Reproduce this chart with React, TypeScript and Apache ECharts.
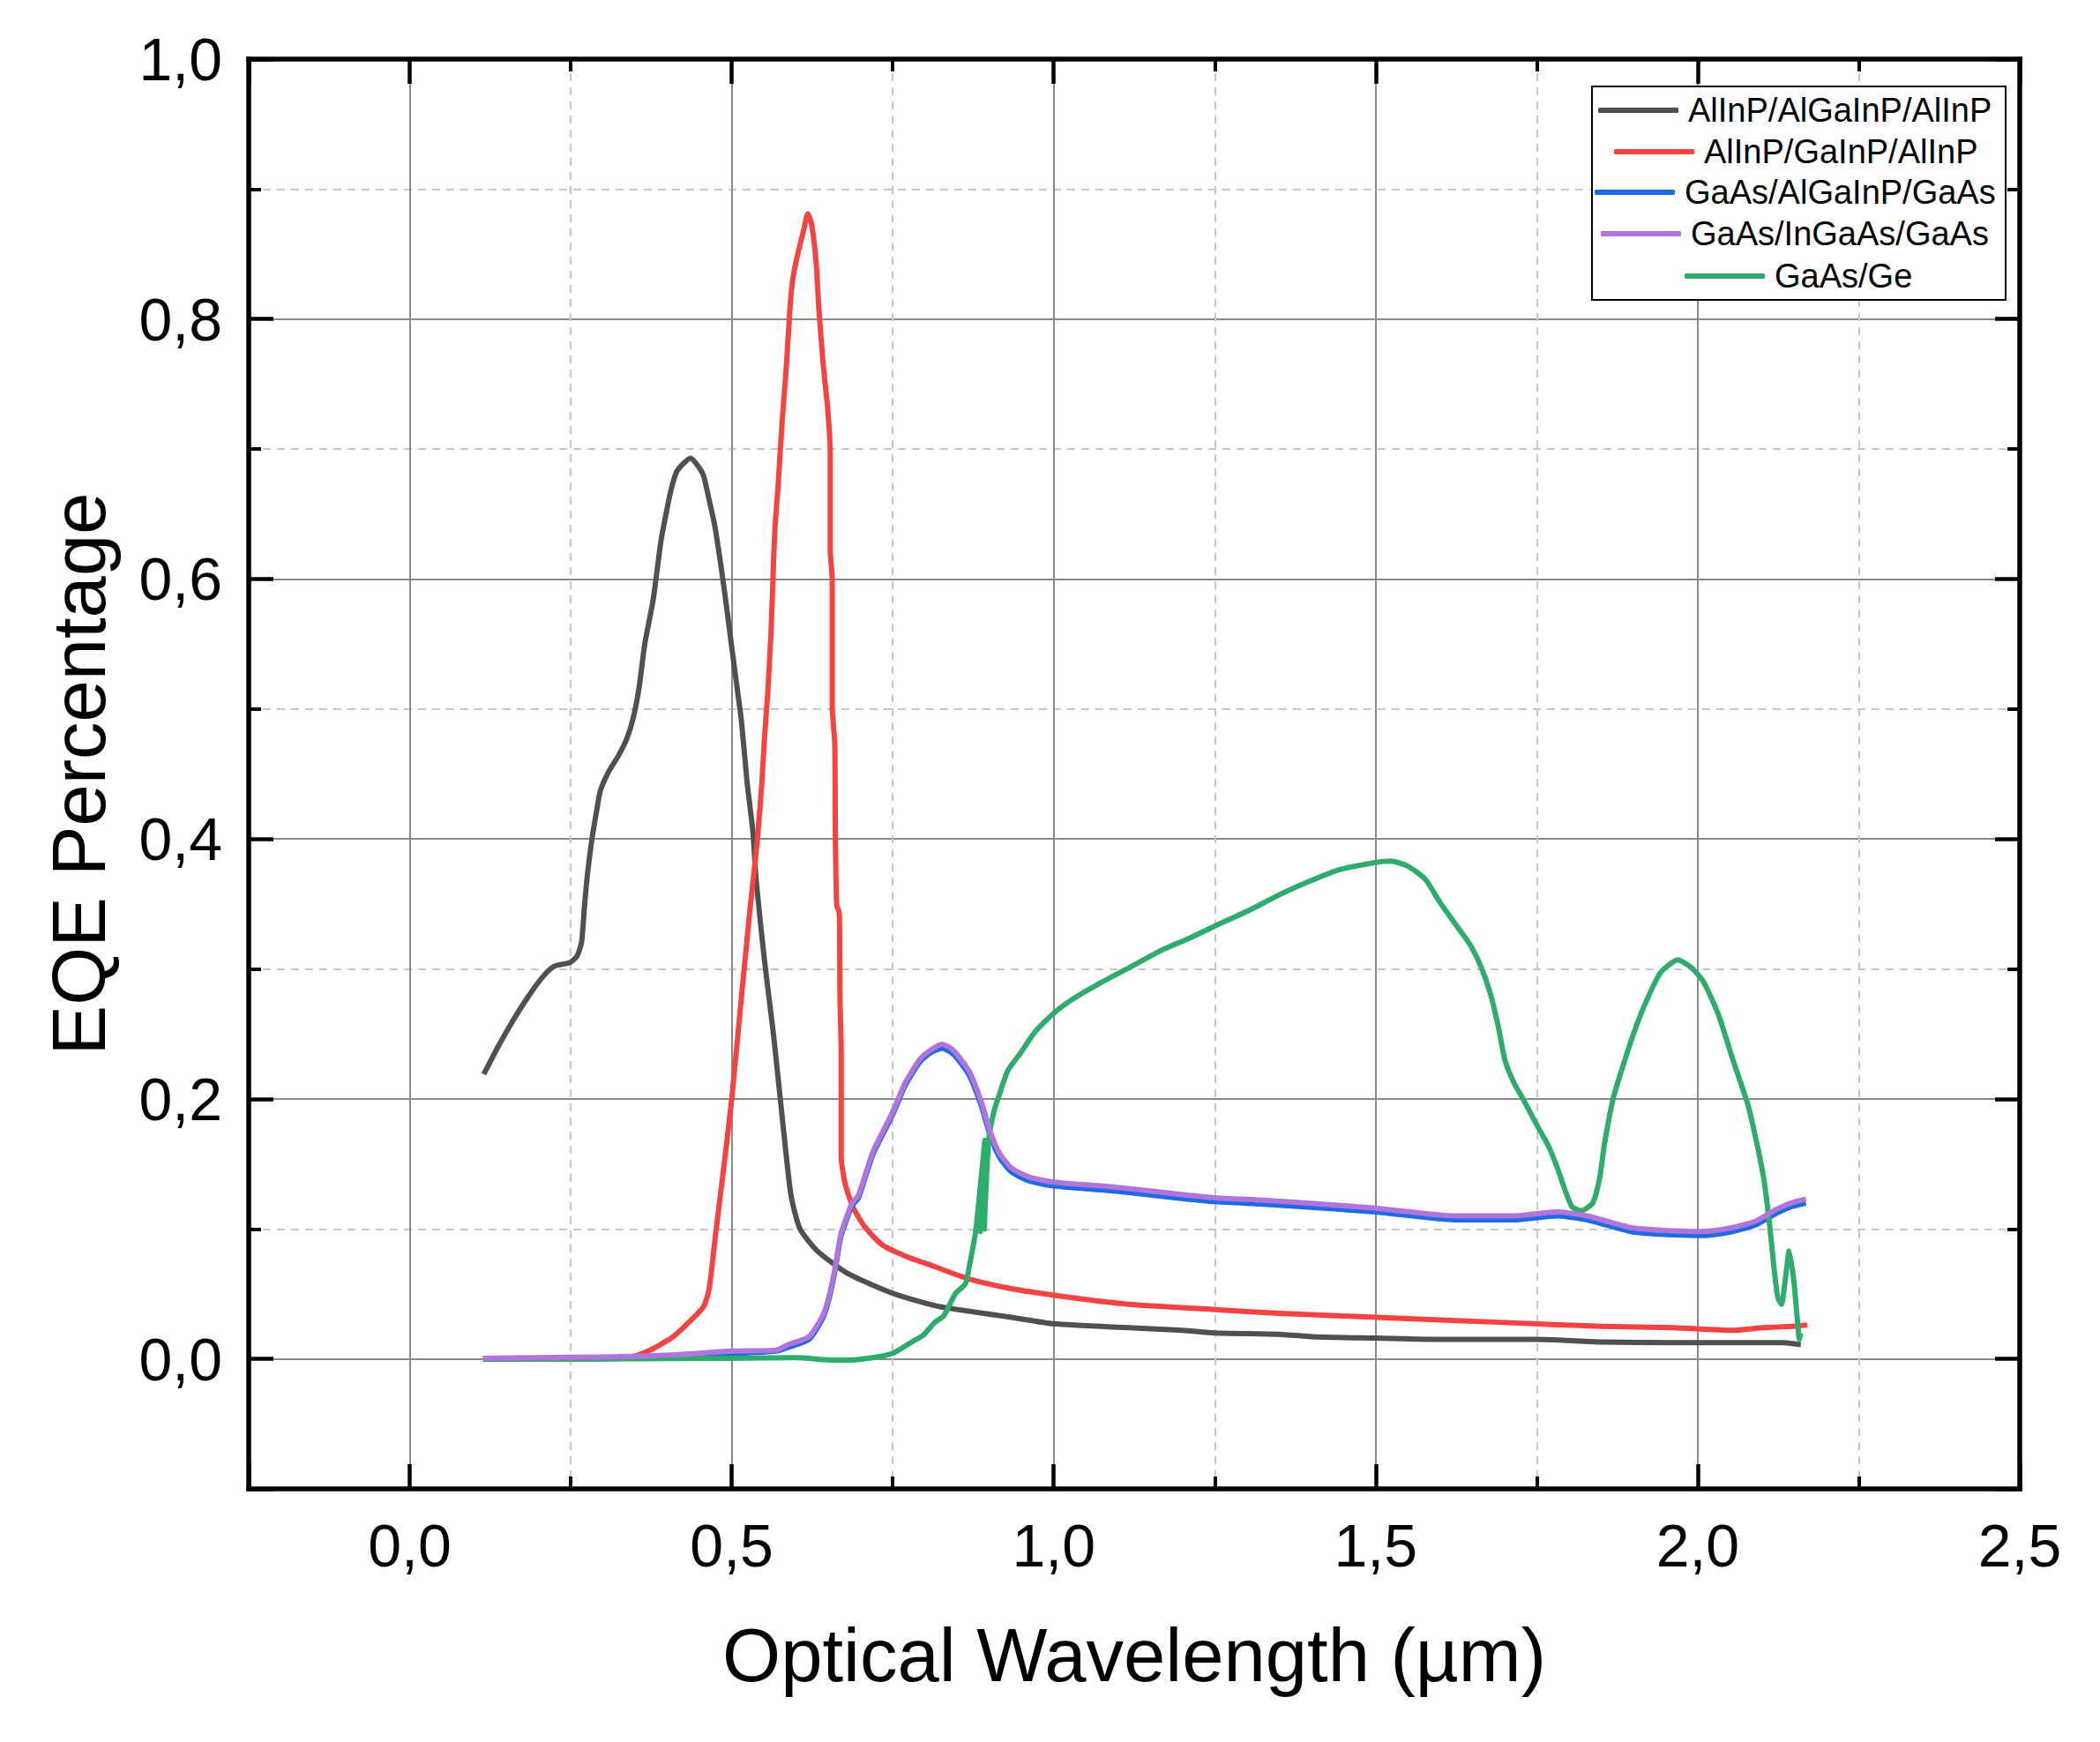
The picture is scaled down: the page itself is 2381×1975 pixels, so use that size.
import { useEffect, useRef } from "react";
import * as echarts from "echarts";

// Optical wavelength (µm) vs EQE
const ALINP_ALGAINP: [number, number][] = [
  [0.115, 0.219], [0.137, 0.24], [0.16, 0.26], [0.183, 0.278], [0.205, 0.293], [0.224, 0.302],
  [0.249, 0.305], [0.26, 0.31], [0.267, 0.321], [0.271, 0.346], [0.276, 0.373], [0.283, 0.4],
  [0.29, 0.421], [0.296, 0.437], [0.308, 0.451], [0.324, 0.464], [0.337, 0.477], [0.347, 0.493],
  [0.356, 0.516], [0.365, 0.55], [0.378, 0.584], [0.39, 0.629], [0.396, 0.645], [0.405, 0.667],
  [0.415, 0.683], [0.436, 0.693], [0.455, 0.681], [0.464, 0.663], [0.474, 0.64], [0.483, 0.611],
  [0.49, 0.586], [0.497, 0.559], [0.506, 0.525], [0.515, 0.491], [0.524, 0.443], [0.533, 0.405],
  [0.538, 0.368], [0.551, 0.306], [0.565, 0.249], [0.579, 0.183], [0.592, 0.126], [0.606, 0.1],
  [0.633, 0.083], [0.679, 0.066], [0.747, 0.051], [0.815, 0.041], [0.843, 0.0385], [0.934, 0.032],
  [1.0, 0.027], [1.116, 0.024], [1.2, 0.022], [1.25, 0.02], [1.35, 0.019], [1.4, 0.017],
  [1.5, 0.016], [1.6, 0.015], [1.75, 0.015], [1.85, 0.013], [1.963, 0.0125], [2.132, 0.0125],
  [2.16, 0.011],
];

const ALINP_GAINP: [number, number][] = [
  [0.114, 0], [0.25, 0], [0.34, 0.001], [0.37, 0.006], [0.406, 0.016], [0.429, 0.026],
  [0.456, 0.04], [0.465, 0.054], [0.474, 0.092], [0.488, 0.149], [0.5, 0.2], [0.515, 0.278],
  [0.529, 0.349], [0.54, 0.4], [0.547, 0.445], [0.551, 0.479], [0.556, 0.513], [0.561, 0.559],
  [0.564, 0.6], [0.567, 0.638], [0.572, 0.672], [0.578, 0.719], [0.585, 0.765], [0.59, 0.805],
  [0.594, 0.828], [0.599, 0.842], [0.605, 0.855], [0.612, 0.869], [0.618, 0.881], [0.624, 0.873],
  [0.631, 0.844], [0.635, 0.81], [0.642, 0.765], [0.649, 0.731], [0.653, 0.697], [0.653, 0.622],
  [0.656, 0.6], [0.656, 0.502], [0.66, 0.473], [0.661, 0.4], [0.663, 0.349], [0.667, 0.343],
  [0.668, 0.28], [0.67, 0.235], [0.67, 0.155], [0.676, 0.135], [0.688, 0.117], [0.706, 0.102],
  [0.733, 0.088], [0.77, 0.079], [0.815, 0.071], [0.865, 0.062], [0.934, 0.054], [1.0, 0.049],
  [1.116, 0.042], [1.25, 0.038], [1.35, 0.035], [1.5, 0.032], [1.7, 0.028], [1.85, 0.025],
  [1.963, 0.024], [2.054, 0.022], [2.1, 0.024], [2.145, 0.025], [2.17, 0.026],
];

const GAAS_ALGAINP: [number, number][] = [
  [0.114, 0], [0.2, 0.0005], [0.3, 0.001], [0.406, 0.002], [0.5, 0.004], [0.569, 0.006],
  [0.588, 0.009], [0.62, 0.015], [0.642, 0.032], [0.652, 0.048], [0.66, 0.067], [0.669, 0.093],
  [0.674, 0.101], [0.687, 0.118], [0.697, 0.124], [0.719, 0.157], [0.75, 0.188], [0.77, 0.211],
  [0.793, 0.229], [0.81, 0.236], [0.827, 0.239], [0.84, 0.236], [0.852, 0.23], [0.87, 0.217],
  [0.888, 0.194], [0.902, 0.171], [0.916, 0.155], [0.934, 0.144], [0.961, 0.137], [1.0, 0.133],
  [1.098, 0.129], [1.189, 0.124], [1.25, 0.121], [1.326, 0.119], [1.389, 0.117], [1.5, 0.113],
  [1.623, 0.107], [1.714, 0.107], [1.782, 0.11], [1.828, 0.107], [1.896, 0.098], [1.942, 0.096],
  [2.009, 0.095], [2.054, 0.098], [2.09, 0.103], [2.122, 0.112], [2.145, 0.117], [2.168, 0.12],
];

const GAAS_INGAAS: [number, number][] = [
  [0.114, 0.0005], [0.2, 0.001], [0.3, 0.0015], [0.406, 0.003], [0.5, 0.006], [0.569, 0.0068],
  [0.588, 0.011], [0.62, 0.017], [0.642, 0.034], [0.652, 0.05], [0.66, 0.069], [0.669, 0.095],
  [0.674, 0.103], [0.687, 0.12], [0.697, 0.126], [0.719, 0.159], [0.75, 0.19], [0.77, 0.213],
  [0.793, 0.231], [0.81, 0.238], [0.827, 0.242], [0.84, 0.239], [0.852, 0.233], [0.87, 0.22],
  [0.888, 0.197], [0.902, 0.174], [0.916, 0.158], [0.934, 0.147], [0.961, 0.14], [1.0, 0.136],
  [1.098, 0.132], [1.189, 0.127], [1.25, 0.124], [1.326, 0.122], [1.389, 0.12], [1.5, 0.116],
  [1.623, 0.11], [1.714, 0.11], [1.782, 0.113], [1.828, 0.11], [1.896, 0.101], [1.942, 0.099],
  [2.009, 0.098], [2.054, 0.101], [2.09, 0.106], [2.122, 0.115], [2.145, 0.12], [2.168, 0.123],
];

const GAAS_GE: [number, number][] = [
  [0.114, 0], [0.3, 0], [0.5, 0.0005], [0.6, 0.001], [0.66, -0.001], [0.679, -0.001],
  [0.719, 0.001], [0.751, 0.0045], [0.783, 0.014], [0.797, 0.018], [0.815, 0.028], [0.829, 0.033],
  [0.847, 0.05], [0.863, 0.058], [0.87, 0.074], [0.879, 0.099], [0.893, 0.168], [0.886, 0.098],
  [0.897, 0.168], [0.892, 0.1], [0.899, 0.168], [0.907, 0.19], [0.916, 0.204], [0.929, 0.222],
  [0.948, 0.235], [0.97, 0.251], [1.0, 0.266], [1.03, 0.277], [1.075, 0.29], [1.121, 0.302],
  [1.166, 0.314], [1.212, 0.324], [1.25, 0.333], [1.303, 0.345], [1.35, 0.357], [1.395, 0.367],
  [1.441, 0.376], [1.5, 0.382], [1.523, 0.383], [1.55, 0.379], [1.577, 0.369], [1.6, 0.351],
  [1.623, 0.335], [1.646, 0.319], [1.664, 0.301], [1.678, 0.281], [1.691, 0.254], [1.7, 0.231],
  [1.714, 0.213], [1.732, 0.197], [1.75, 0.18], [1.769, 0.163], [1.782, 0.147], [1.796, 0.127],
  [1.805, 0.117], [1.819, 0.114], [1.837, 0.12], [1.848, 0.14], [1.855, 0.165], [1.869, 0.201],
  [1.883, 0.224], [1.901, 0.251], [1.919, 0.274], [1.942, 0.297], [1.969, 0.307], [1.99, 0.301],
  [2.009, 0.29], [2.032, 0.265], [2.054, 0.231], [2.077, 0.197], [2.09, 0.17], [2.102, 0.14],
  [2.111, 0.106], [2.118, 0.072], [2.124, 0.048], [2.13, 0.042], [2.136, 0.061], [2.142, 0.083],
  [2.149, 0.061], [2.154, 0.034], [2.158, 0.015], [2.16, 0.02],
];

const SERIES_NAMES = [
  "AlInP/AlGaInP/AlInP",
  "AlInP/GaInP/AlInP",
  "GaAs/AlGaInP/GaAs",
  "GaAs/InGaAs/GaAs",
  "GaAs/Ge",
];
const SERIES_DATA = [ALINP_ALGAINP, ALINP_GAINP, GAAS_ALGAINP, GAAS_INGAAS, GAAS_GE];
const SERIES_COLORS = ["#505050", "#F44343", "#1C6BE3", "#B075DD", "#2EAC6B"];
// stacking order seen in the picture: black < red < green < blue < purple
const SERIES_Z = [2, 3, 4, 5, 4.5];

// legend rows (the items sit centred in the box)
const LEGEND_LEFT = [1812, 1830, 1808, 1815, 1910];
const LEGEND_ROW_Y = [125, 172, 218, 265, 313];

const FONT = '"Liberation Sans", Arial, sans-serif';
const fmt = (v: number) => v.toFixed(1).replace(".", ",");

export default function App() {
  const chartRef = useRef<HTMLDivElement>(null);

  useEffect(() => {
    if (!chartRef.current) return;
    document.body.style.margin = "0";
    const chart = echarts.init(chartRef.current, null, { renderer: "svg" });

    const tick = { show: true, inside: true, length: 28, lineStyle: { color: "#000", width: 4.5 } };
    const minorTick = { show: true, splitNumber: 2, length: 14, lineStyle: { color: "#000", width: 4 } };
    const axisLine = { show: true, onZero: false, lineStyle: { color: "#000", width: 5.5, cap: "square" } };
    const splitLine = { show: true, lineStyle: { color: "#8a8a8a", width: 2 } };
    const minorSplitLine = { show: true, lineStyle: { color: "#c8c8c8", width: 2, type: [9, 7] } };

    const xBase = { type: "value", min: -0.25, max: 2.5, splitNumber: 5, minInterval: 0.5, maxInterval: 0.5 };
    const yBase = { type: "value", min: -0.1, max: 1.0, splitNumber: 5, minInterval: 0.2, maxInterval: 0.2 };

    const tickLabel = {
      showMinLabel: false,
      margin: 30,
      fontSize: 68,
      fontFamily: FONT,
      color: "#000",
      formatter: fmt,
    };

    const option: any = {
      animation: false,
      backgroundColor: "#fff",
      grid: { left: 282, right: 91, top: 67, bottom: 287, outerBoundsMode: "none", containLabel: false },
      xAxis: [
        {
          ...xBase,
          position: "bottom",
          name: "Optical Wavelength (µm)",
          nameLocation: "middle",
          nameGap: 146,
          nameMoveOverlap: false,
          nameTextStyle: { fontSize: 85, fontFamily: FONT, color: "#000" },
          axisLine,
          axisTick: tick,
          minorTick,
          splitLine,
          minorSplitLine,
          axisLabel: tickLabel,
        },
        {
          ...xBase,
          position: "top",
          axisLine,
          axisTick: tick,
          minorTick,
          splitLine: { show: false },
          axisLabel: { show: false },
        },
      ],
      yAxis: [
        {
          ...yBase,
          position: "left",
          name: "EQE Percentage",
          nameLocation: "middle",
          nameGap: 150,
          nameMoveOverlap: false,
          nameTextStyle: { fontSize: 85, fontFamily: FONT, color: "#000" },
          axisLine,
          axisTick: tick,
          minorTick,
          splitLine,
          minorSplitLine,
          axisLabel: tickLabel,
        },
        {
          ...yBase,
          position: "right",
          axisLine,
          axisTick: tick,
          minorTick,
          splitLine: { show: false },
          axisLabel: { show: false },
        },
      ],
      legend: SERIES_NAMES.map((name, i) => ({
        data: [name],
        left: LEGEND_LEFT[i],
        top: LEGEND_ROW_Y[i] - 19,
        padding: 0,
        icon: "roundRect",
        itemWidth: 91,
        itemHeight: 6,
        selectedMode: false,
        textStyle: { fontSize: 38, fontFamily: FONT, color: "#000", padding: [0, 0, 0, 6] },
      })),
      graphic: [
        {
          type: "rect",
          z: 3,
          shape: { x: 1805, y: 98, width: 469, height: 242 },
          style: { fill: "#fff", stroke: "#000", lineWidth: 2 },
        },
      ],
      series: SERIES_NAMES.map((name, i) => ({
        name,
        type: "line",
        data: SERIES_DATA[i],
        symbol: "none",
        showSymbol: false,
        smooth: 0.2,
        z: SERIES_Z[i],
        color: SERIES_COLORS[i],
        lineStyle: { color: SERIES_COLORS[i], width: 6, join: "round" },
      })),
    };

    chart.setOption(option);
    return () => chart.dispose();
  }, []);

  return <div ref={chartRef} style={{ width: 2381, height: 1975 }} />;
}
